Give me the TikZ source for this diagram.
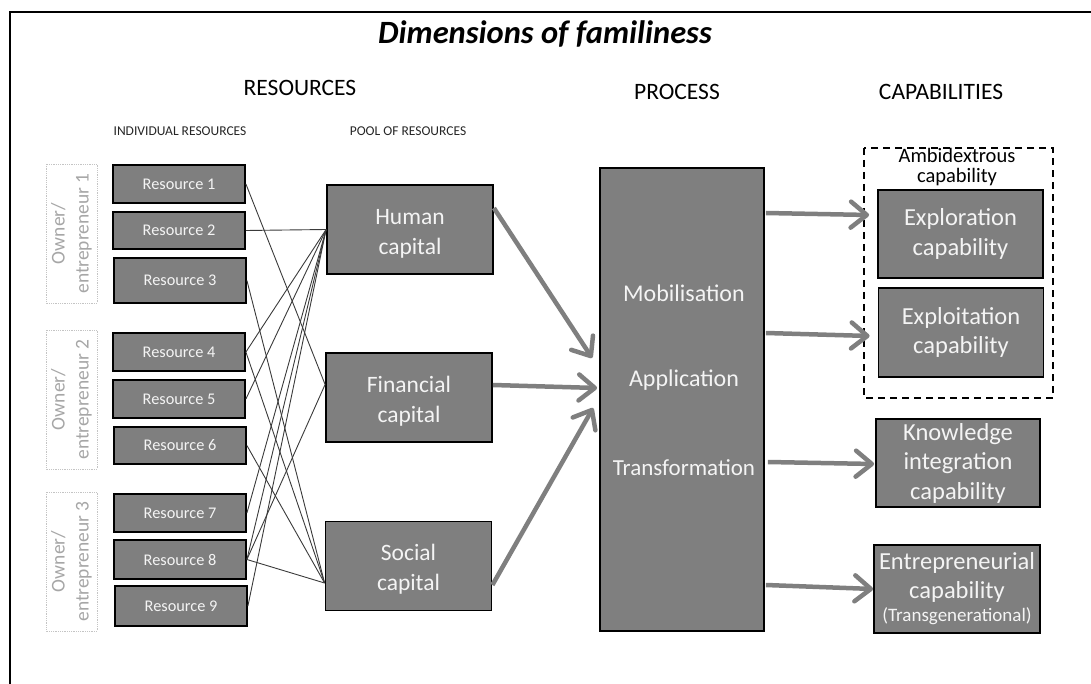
\documentclass[tikz,border=0pt]{standalone}
\usepackage{fontspec}
\setmainfont{Carlito}
\usetikzlibrary{arrows.meta,calc}

\definecolor{boxgray}{HTML}{7F7F7F}
\definecolor{boxtext}{HTML}{F4F4F4}
\definecolor{ownertext}{HTML}{A6A6A6}
\definecolor{ownerframe}{HTML}{C4C4C4}
\definecolor{linkgray}{HTML}{3A3A3A}

\newcommand{\topstrut}{\rule{0pt}{23pt}}

\tikzset{
  darkbox/.style={draw=black, line width=1.8pt, fill=boxgray, text=boxtext,
    inner sep=0pt, align=center},
  resbox/.style={darkbox, minimum width=132pt, font=\fontsize{16.3}{19}\selectfont},
  capbox/.style={darkbox, minimum width=166pt, minimum height=89pt,
    font=\fontsize{23.5}{30}\selectfont},
  abilitybox/.style={darkbox, minimum width=165pt, minimum height=88pt,
    font=\fontsize{24.5}{29.5}\selectfont},
  proctext/.style={text=boxtext, inner sep=0pt, font=\fontsize{24}{28}\selectfont},
  ownerbox/.style={draw=ownerframe, densely dotted, line width=0.8pt, text=ownertext,
    align=center, inner sep=0pt, minimum width=139pt, minimum height=51pt,
    font=\fontsize{19.5}{24}\selectfont},
  heading/.style={text=black, inner sep=0pt, font=\fontsize{23.5}{28}\selectfont},
  subheading/.style={text=black!85, inner sep=0pt, font=\fontsize{13.5}{16}\selectfont},
  link/.style={draw=linkgray, line width=0.9pt},
  bigarrow/.style={draw=boxgray, line width=4.5pt,
    -{Straight Barb[length=16pt, width=26pt, line cap=round, line join=round]}},
}

\begin{document}
\begin{tikzpicture}[x=1pt, y=-1pt]
\useasboundingbox (0,0) rectangle (1091,684);

% outer frame (top and left edges)
\draw[line width=1.5pt] (10,684) -- (10,12) -- (1091,12);

% title and column headings
\node[inner sep=0pt, font=\fontsize{32.5}{38}\selectfont\bfseries\itshape] (title) at (545,34) {Dimensions of familiness};
\node[heading] (hres) at (300,88) {RESOURCES};
\node[heading] (hproc) at (677,92) {PROCESS};
\node[heading] (hcap) at (941,92) {CAPABILITIES};
\node[subheading] (hind) at (180,131) {INDIVIDUAL RESOURCES};
\node[subheading] (hpool) at (408,131) {POOL OF RESOURCES};

% owners
\node[ownerbox, rotate=90] (o1) at (71.5,233.5) {Owner/\\entrepreneur 1};
\node[ownerbox, rotate=90] (o2) at (71.5,399.5) {Owner/\\entrepreneur 2};
\node[ownerbox, rotate=90] (o3) at (71.5,561.5) {Owner/\\entrepreneur 3};

% individual resources
\node[resbox, minimum height=38pt] (r1) at (179,184) {Resource 1};
\node[resbox, minimum height=37pt] (r2) at (179,230.5) {Resource 2};
\node[resbox, minimum height=45pt] (r3) at (180,280.5) {Resource 3};
\node[resbox, minimum height=38pt] (r4) at (179,352) {Resource 4};
\node[resbox, minimum height=38pt] (r5) at (179,399) {Resource 5};
\node[resbox, minimum height=37pt] (r6) at (180,445.5) {Resource 6};
\node[resbox, minimum height=38pt] (r7) at (180,513) {Resource 7};
\node[resbox, minimum height=39pt] (r8) at (180,559.5) {Resource 8};
\node[resbox, minimum height=40pt] (r9) at (181,606) {Resource 9};

% pool of resources
\node[capbox] (hc) at (410,229.5) {\topstrut Human\\capital};
\node[capbox] (fc) at (409,397.5) {\topstrut Financial\\capital};
\node[capbox] (sc) at (408.5,566) {\topstrut Social\\capital};

% points where the resource links meet each pool
\coordinate (hcin) at (hc.west);
\coordinate (fcin) at ($(fc.west)+(0,-13)$);
\coordinate (scin) at ($(sc.west)+(0,17)$);

% resource links
\foreach \r/\c in {r1/fcin, r2/hcin, r3/scin, r4/hcin, r4/scin, r5/hcin,
                   r6/scin, r7/hcin, r8/hcin, r8/fcin, r8/scin, r9/hcin}
  \draw[link] (\r.east) -- (\c);

% process
\node[darkbox, minimum width=164pt, minimum height=463pt] (pr) at (682,399.5) {};
\node[proctext] (mob) at (684,293) {Mobilisation};
\node[proctext] (app) at (684,380) {Application};
\node[proctext, font=\fontsize{23}{27}\selectfont] (tra) at (684,468) {Transformation};

% capabilities
\draw[dashed, dash pattern=on 7pt off 5pt, line width=1.7pt] (864,148) rectangle (1053,398);
\node[inner sep=0pt, align=center, font=\fontsize{20.5}{20}\selectfont] (amb) at (957,167) {Ambidextrous\\capability};
\node[abilitybox] (ex) at (960.5,234) {Exploration\\capability};
\node[abilitybox, minimum height=89pt] (ep) at (961,332.5) {Exploitation\\capability};
\node[abilitybox, minimum width=164pt] (kn) at (958,463) {Knowledge\\integration\\capability};
\node[abilitybox, minimum width=166pt, font=\fontsize{24.5}{28.5}\selectfont] (en) at (957,589)
  {Entrepreneurial\\capability\\[-5pt]{\fontsize{19}{21}\selectfont(Transgenerational)}};

% pool to process arrows
\draw[bigarrow] ($(hc.east)+(0,-21.5)$) -- ($(pr.west)+(-7,-41.5)$);
\draw[bigarrow] ($(fc.east)+(0,-12.5)$) -- ($(pr.west)+(-2,-11.5)$);
\draw[bigarrow] ($(sc.east)+(0,19)$) -- ($(pr.west)+(-6,8.5)$);

% process to capability arrows
\draw[bigarrow] ($(pr.east)+(1,-186.5)$) -- ($(ex.west)+(-8,-19)$);
\draw[bigarrow] ($(pr.east)+(1,-66.5)$) -- ($(ep.west)+(-8,3.5)$);
\draw[bigarrow] ($(pr.east)+(3,62.5)$) -- ($(kn.west)+(-1,1)$);
\draw[bigarrow] ($(pr.east)+(1,185.5)$) -- (en.west);
\end{tikzpicture}
\end{document}
